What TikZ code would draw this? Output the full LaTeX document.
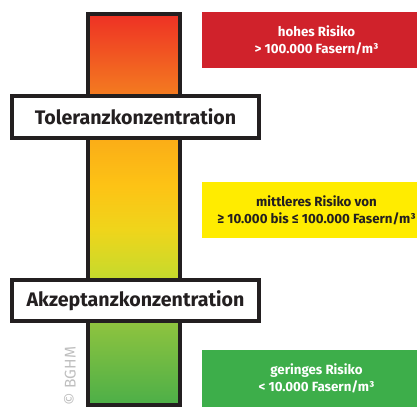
\documentclass[tikz,border=0pt]{standalone}
\usepackage{fontspec}
\setmainfont{Fira Sans}
\usetikzlibrary{calc}

\definecolor{riskred}{HTML}{D0222B}
\definecolor{riskyellow}{HTML}{FFEC00}
\definecolor{riskgreen}{HTML}{3DAE4A}
\definecolor{framegray}{HTML}{231F20}

\pgfdeclareverticalshading{riskbar}{100bp}{%
  color(0bp)=({rgb,255:red,76;green,175;blue,72});
  color(25bp)=({rgb,255:red,76;green,175;blue,72});
  color(35.4bp)=({rgb,255:red,141;green,195;blue,63});
  color(41.7bp)=({rgb,255:red,201;green,218;blue,43});
  color(47.4bp)=({rgb,255:red,239;green,213;blue,27});
  color(53bp)=({rgb,255:red,253;green,195;blue,21});
  color(58.8bp)=({rgb,255:red,251;green,174;blue,23});
  color(64.6bp)=({rgb,255:red,244;green,124;blue,32});
  color(75bp)=({rgb,255:red,238;green,49;blue,36});
  color(100bp)=({rgb,255:red,238;green,49;blue,36})}

\begin{document}
\begin{tikzpicture}[x=1pt, y=-1pt,
  levelbox/.style={draw=framegray, line width=4pt, fill=white, inner sep=0pt,
    minimum width=247pt, font=\bfseries\fontsize{19.6}{22}\selectfont, text=framegray},
  riskbox/.style={inner sep=0pt, minimum width=229pt, minimum height=56pt, align=center,
    font=\bfseries\fontsize{13.3}{17}\selectfont}]
  \clip (0,0) rectangle (417,407);
  % ===== Skala =====
  \shade[shading=riskbar] (88,14) rectangle (180,405);
  \draw[framegray, line width=4pt] (88,14) rectangle (180,405);
  \node[levelbox, minimum height=42pt] (toleranz) at (135.5,117) {Toleranzkonzentration};
  \node[levelbox, minimum height=41pt] (akzeptanz) at (135.5,300.5) {Akzeptanzkonzentration};
  % ===== Risikostufen =====
  \node[riskbox, fill=riskred, text=white] (hoch) at (316.5,40) {hohes Risiko\\> 100.000 Fasern/m³};
  \node[riskbox, fill=riskyellow, text=framegray] (mittel) at (316.5,210) {mittleres Risiko von\\≥ 10.000 bis ≤ 100.000 Fasern/m³};
  \node[riskbox, fill=riskgreen, text=white, minimum height=57pt] (gering) at (316.5,378.5) {geringes Risiko\\< 10.000 Fasern/m³};
  % ===== Copyright =====
  \node[rotate=90, text=black!25, font=\fontsize{15.5}{17}\selectfont] (copy) at (70,376) {© BGHM};
\end{tikzpicture}
\end{document}
